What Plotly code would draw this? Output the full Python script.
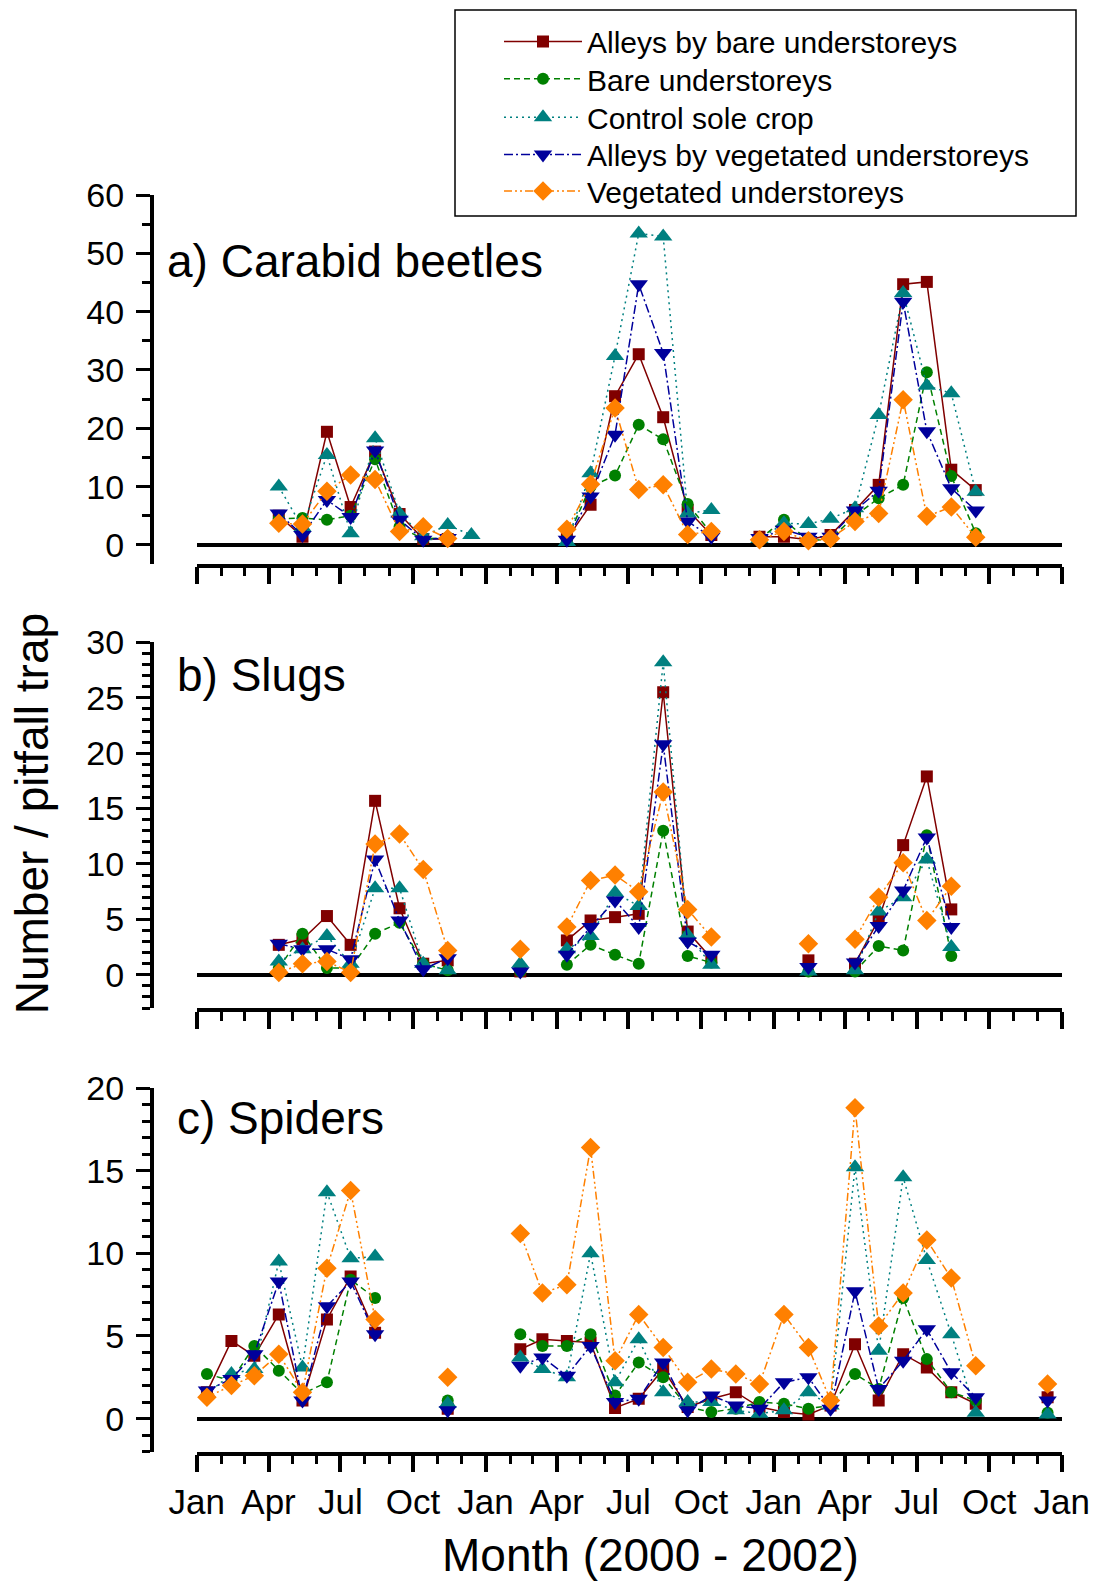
import plotly.graph_objects as go
import pandas as pd

N = None
# month index 0 = Jan 2000 ... 35 = Dec 2002 (samples taken mid-month)
month_index = list(range(36))
sample_dates = [(pd.Timestamp(2000, 1, 14) + pd.DateOffset(months=i)).strftime("%Y-%m-%d") for i in month_index]

series_names = ["Alleys by bare understoreys", "Bare understoreys", "Control sole crop",
                "Alleys by vegetated understoreys", "Vegetated understoreys"]

# ---------- a) Carabid beetles ----------
carabid_alley_bare = [N, N, N, 5.0, 1.4, 19.4, 6.5, 16.0, 5.3, 1.0, 1.0, N,
                      N, N, N, 1.0, 6.9, 25.5, 32.7, 21.9, 6.0, 1.7, N, 1.4,
                      1.4, 0.9, 1.7, 6.0, 10.3, 44.7, 45.1, 12.9, 9.4, N, N, N]
carabid_bare = [N, N, N, 4.5, 4.6, 4.3, 5.0, 14.7, 3.1, 1.0, 1.3, N,
                N, N, N, 1.0, 10.0, 11.9, 20.6, 18.1, 7.0, 2.0, N, 1.0,
                4.3, 0.7, 1.0, 5.0, 8.0, 10.3, 29.6, 11.8, 2.0, N, N, N]
carabid_control = [N, N, N, 10.0, 3.0, 15.4, 2.0, 18.3, 5.4, 1.5, 3.4, 1.7,
                   N, N, N, 0.5, 12.3, 32.4, 53.4, 52.9, 5.4, 6.0, N, 1.0,
                   3.7, 3.6, 4.5, 6.3, 22.3, 43.2, 27.3, 26.0, 9.1, N, N, N]
carabid_alley_veg = [N, N, N, 5.4, 1.7, 7.7, 4.8, 16.2, 4.3, 0.9, 1.2, N,
                     N, N, N, 0.9, 8.3, 18.9, 44.7, 32.9, 4.0, 1.4, N, 1.2,
                     2.6, 1.4, 1.4, 5.9, 9.3, 41.7, 19.5, 9.7, 5.9, N, N, N]
carabid_veg = [N, N, N, 3.7, 3.6, 9.2, 12.0, 11.2, 2.3, 3.1, 1.1, N,
               N, N, N, 2.7, 10.4, 23.5, 9.5, 10.3, 1.8, 2.3, N, 0.9,
               2.3, 0.7, 1.1, 4.0, 5.4, 24.9, 4.9, 6.5, 1.3, N, N, N]

# ---------- b) Slugs ----------
slug_alley_bare = [N, N, N, 2.7, 3.2, 5.3, 2.7, 15.7, 6.0, 1.0, 1.3, N,
                   N, 0.3, N, 3.1, 4.9, 5.2, 5.5, 25.5, 3.9, 1.5, N, N,
                   N, 1.3, N, 1.0, 5.0, 11.7, 17.9, 5.9, N, N, N, N]
slug_bare = [N, N, N, 0.6, 3.7, 0.6, 0.6, 3.7, 4.7, 1.0, 0.4, N,
             N, 0.3, N, 0.9, 2.7, 1.8, 1.0, 13.0, 1.7, 1.1, N, N,
             N, 0.3, N, 0.3, 2.6, 2.2, 12.6, 1.7, N, N, N, N]
slug_control = [N, N, N, 1.2, 2.3, 3.5, 1.0, 7.8, 7.8, 1.0, 0.4, N,
                N, 1.0, N, 2.3, 3.5, 7.4, 6.2, 28.2, 3.6, 0.9, N, N,
                N, 0.3, N, 0.4, 5.7, 7.0, 10.4, 2.5, N, N, N, N]
slug_alley_veg = [N, N, N, 2.8, 2.3, 2.3, 1.4, 10.4, 4.9, 0.5, 1.5, N,
                  N, 0.3, N, 1.8, 4.3, 6.7, 4.3, 20.8, 3.0, 1.8, N, N,
                  N, 0.7, N, 1.1, 4.4, 7.6, 12.4, 4.3, N, N, N, N]
slug_veg = [N, N, N, 0.2, 1.0, 1.2, 0.2, 11.8, 12.7, 9.5, 2.2, N,
            N, 2.3, N, 4.3, 8.5, 9.0, 7.5, 16.5, 5.9, 3.4, N, N,
            N, 2.8, N, 3.2, 7.0, 10.1, 4.9, 8.0, N, N, N, N]

# ---------- c) Spiders ----------
spider_alley_bare = [1.6, 4.7, 3.8, 6.3, 1.1, 6.0, 8.6, 5.2, N, N, 0.6, N,
                     N, 4.2, 4.8, 4.7, 4.6, 0.65, 1.2, 3.0, 0.7, 1.2, 1.6, 0.7,
                     0.4, 0.25, 0.8, 4.5, 1.1, 3.9, 3.1, 1.6, 0.9, N, N, 1.3]
spider_bare = [2.7, 2.3, 4.4, 2.9, 1.5, 2.2, 8.4, 7.3, N, N, 1.1, N,
               N, 5.1, 4.4, 4.4, 5.1, 1.4, 3.4, 2.5, 0.7, 0.4, 0.6, 1.0,
               0.9, 0.6, 0.8, 2.7, 1.8, 7.3, 3.6, 1.6, 1.1, N, N, 0.35]
spider_control = [1.5, 2.7, 3.0, 9.5, 3.1, 13.7, 9.7, 9.8, N, N, 0.9, N,
                  N, 3.7, 3.0, 2.5, 10.0, 2.2, 4.8, 1.6, 1.0, 1.0, 0.5, 0.3,
                  0.5, 1.6, 0.8, 15.2, 4.1, 14.6, 9.6, 5.1, 0.35, N, N, 0.25]
spider_alley_veg = [1.7, 2.4, 3.9, 8.3, 1.1, 6.8, 8.3, 5.1, N, N, 0.5, N,
                    N, 3.2, 3.7, 2.6, 4.4, 1.0, 1.2, 3.4, 0.5, 1.4, 0.8, 0.6,
                    2.2, 2.5, 0.6, 7.7, 1.8, 3.5, 5.4, 2.8, 1.3, N, N, 1.1]
spider_veg = [1.3, 2.0, 2.6, 3.9, 1.6, 9.1, 13.8, 6.0, N, N, 2.5, N,
              N, 11.2, 7.6, 8.1, 16.4, 3.5, 6.3, 4.3, 2.2, 3.0, 2.7, 2.1,
              6.3, 4.3, 1.1, 18.8, 5.6, 7.6, 10.8, 8.5, 3.2, N, N, 2.1]

panel_titles = ["a) Carabid beetles", "b) Slugs", "c) Spiders"]
panel_series = [
    [carabid_alley_bare, carabid_bare, carabid_control, carabid_alley_veg, carabid_veg],
    [slug_alley_bare, slug_bare, slug_control, slug_alley_veg, slug_veg],
    [spider_alley_bare, spider_bare, spider_control, spider_alley_veg, spider_veg],
]

tick_dates = [f"{2000 + q // 4}-{(q % 4) * 3 + 1:02d}-01" for q in range(13)]
tick_labels = ["Jan", "Apr", "Jul", "Oct"] * 3 + ["Jan"]

# ---------- styling ----------
colors = ["#800000", "#008000", "#008080", "#00009B", "#FF8000"]
dashes = ["solid", "6px,4px", "2px,4px", "9px,3px,2px,3px", "8px,3px,2px,3px,2px,3px"]
symbols = ["square", "circle", "triangle-up", "triangle-down", "diamond"]
msizes = [12, 12, 16, 16, 15]

FONT = "Liberation Sans, Arial, sans-serif"
W, H = 1096, 1584

def px_x(p):
    return p / W

def px_y(p):
    return 1 - p / H

y_ranges = [[-3.2, 60], [-3.0, 30], [-2.0, 20]]
y_dticks = [10, 5, 5]
y_minor = [5, 1, 1]
# pixel extents (top, bottom) of each panel's y axis
panel_px = [(195, 563.6), (642.4, 1008), (1088, 1451.7)]
x_left_px, x_right_px = 196.7, 1061.8
yaxis_pos_px = 151.7

fig = go.Figure()

for p in range(3):
    xa = "x" if p == 0 else f"x{p + 1}"
    ya = "y" if p == 0 else f"y{p + 1}"
    for s in range(5):
        leg = "legend" if s == 0 else f"legend{s + 1}"
        fig.add_trace(go.Scatter(
            x=sample_dates, y=panel_series[p][s], name=series_names[s],
            mode="lines+markers", xaxis=xa, yaxis=ya,
            line=dict(color=colors[s], width=1.5, dash=dashes[s]),
            marker=dict(symbol=symbols[s], size=msizes[s], color=colors[s]),
            showlegend=(p == 0), legend=leg, connectgaps=False,
        ))

layout = dict(
    width=W, height=H, margin=dict(l=0, r=0, t=0, b=0, pad=0, autoexpand=False),
    paper_bgcolor="white", plot_bgcolor="white",
    font=dict(family=FONT, color="black"),
    showlegend=True,
)

for p in range(3):
    xk = "xaxis" if p == 0 else f"xaxis{p + 1}"
    yk = "yaxis" if p == 0 else f"yaxis{p + 1}"
    ya = "y" if p == 0 else f"y{p + 1}"
    top, bot = panel_px[p]
    layout[xk] = dict(
        type="date", domain=[px_x(x_left_px), px_x(x_right_px)], anchor=ya,
        range=["2000-01-01", "2003-01-01"], automargin=False,
        tickmode="array", tickvals=tick_dates, ticktext=tick_labels,
        showticklabels=(p == 2), tickfont=dict(size=35, family=FONT, color="black"),
        ticks="outside", ticklen=17, tickwidth=3.5, tickcolor="black",
        minor=dict(dtick="M1", tick0="2000-01-01", ticks="outside", ticklen=9,
                   tickwidth=3, tickcolor="black"),
        showline=True, linewidth=3.5, linecolor="black", showgrid=False, zeroline=False,
    )
    layout[yk] = dict(
        domain=[px_y(bot), px_y(top)], anchor="free", position=px_x(yaxis_pos_px),
        range=y_ranges[p], dtick=y_dticks[p], tick0=0, automargin=False,
        tickfont=dict(size=34, family=FONT, color="black"), ticklabelstandoff=5,
        ticks="outside", ticklen=14, tickwidth=3, tickcolor="black",
        minor=dict(dtick=y_minor[p], tick0=0, ticks="outside", ticklen=8,
                   tickwidth=3, tickcolor="black"),
        showline=True, linewidth=3.5, linecolor="black", showgrid=False,
        zeroline=True, zerolinecolor="black", zerolinewidth=4,
    )

# one legend per row so spacing matches the reference box
row_centers = [41.4, 78.8, 117.2, 154.5, 190.9]
for s in range(5):
    leg = "legend" if s == 0 else f"legend{s + 1}"
    layout[leg] = dict(
        x=px_x(499), y=px_y(row_centers[s]), xanchor="left", yanchor="middle",
        font=dict(size=30, family=FONT, color="black"), itemwidth=78,
        bgcolor="rgba(0,0,0,0)", borderwidth=0,
    )

fig.update_layout(**layout)

# legend frame
fig.add_shape(type="rect", xref="paper", yref="paper",
              x0=px_x(455), x1=px_x(1076), y0=px_y(216), y1=px_y(10),
              line=dict(color="black", width=1.5), fillcolor="rgba(0,0,0,0)", layer="below")

title_pos = [(165, 261), (175, 675), (175, 1118)]
for p in range(3):
    fig.add_annotation(text=panel_titles[p], xref="paper", yref="paper",
                       x=px_x(title_pos[p][0]), y=px_y(title_pos[p][1]),
                       xanchor="left", yanchor="middle", showarrow=False,
                       font=dict(size=46, family=FONT, color="black"))

fig.add_annotation(text="Month (2000 - 2002)", xref="paper", yref="paper",
                   x=px_x(650.5), y=px_y(1555), xanchor="center", yanchor="middle",
                   showarrow=False, font=dict(size=46, family=FONT, color="black"))
fig.add_annotation(text="Number / pitfall trap", xref="paper", yref="paper",
                   x=px_x(32.3), y=px_y(814), xanchor="center", yanchor="middle",
                   textangle=-90, showarrow=False,
                   font=dict(size=46, family=FONT, color="black"))

fig.write_html("out.html")
